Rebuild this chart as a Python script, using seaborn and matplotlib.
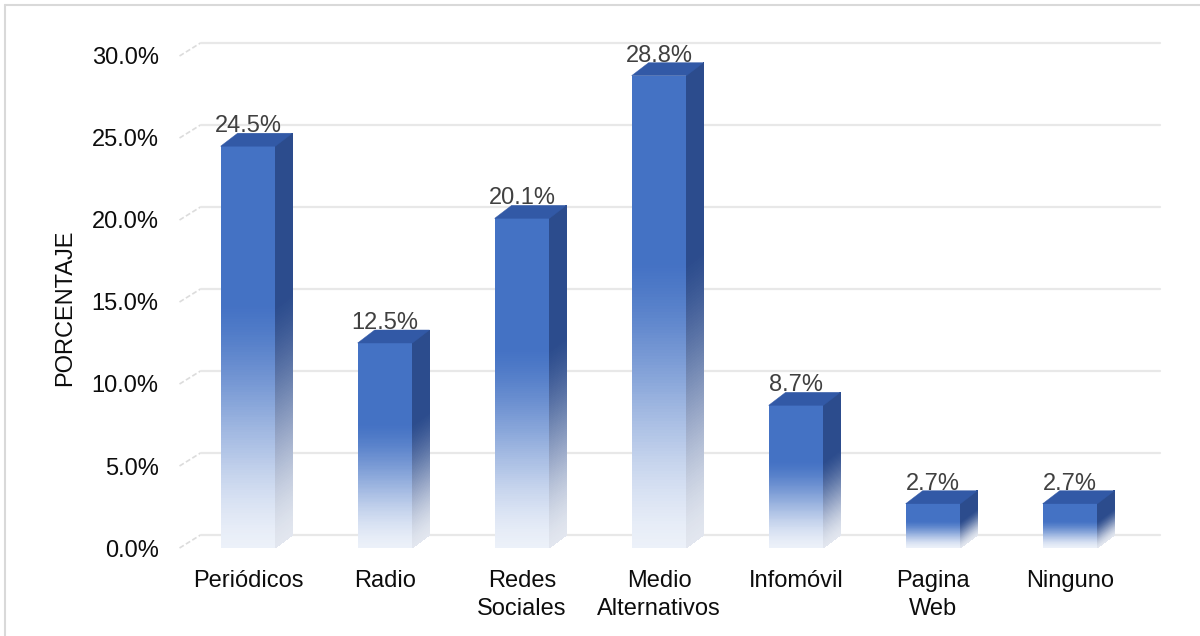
import numpy as np
import pandas as pd
import matplotlib
matplotlib.use("Agg")
import matplotlib.pyplot as plt
import seaborn as sns
from matplotlib.transforms import IdentityTransform
from matplotlib.collections import PolyCollection
from matplotlib.patches import Polygon
from matplotlib.lines import Line2D
from matplotlib.colors import to_rgb

# ---------------- data ----------------
categories = ["Periódicos", "Radio", "Redes\nSociales", "Medio\nAlternativos",
              "Infomóvil", "Pagina\nWeb", "Ninguno"]
values = [24.5, 12.5, 20.1, 28.8, 8.7, 2.7, 2.7]
y_ticks = [0, 5, 10, 15, 20, 25, 30]
y_ticklabels = ["0.0%", "5.0%", "10.0%", "15.0%", "20.0%", "25.0%", "30.0%"]
y_label = "PORCENTAJE"

# ---------------- style ----------------
sns.set_theme(style="white")
plt.rcParams['font.family'] = ['Liberation Sans', 'DejaVu Sans']
FS = 17

DPI = 100
fig = plt.figure(figsize=(12, 6.36), dpi=DPI)
ax = fig.add_axes([0.1496, 0.13836, 0.7992, 0.7736])

df = pd.DataFrame({"cat": categories, "val": values})
sns.barplot(data=df, x="cat", y="val", ax=ax, width=0.40, color="#4472C4",
            saturation=1, zorder=3)
ax.set_xlim(-0.5, 6.5)
ax.set_ylim(0, 30)

for s in ax.spines.values():
    s.set_visible(False)
ax.set_xlabel("")
ax.set_yticks(y_ticks)
ax.set_yticklabels(y_ticklabels)
ax.tick_params(axis="y", length=0, pad=15, labelsize=FS, labelcolor="#0d0d0d")
ax.tick_params(axis="x", length=0, pad=16, labelsize=FS, labelcolor="#0d0d0d")
for lab in ax.get_xticklabels():
    lab.set_linespacing(1.35)
ax.set_ylabel(y_label, fontsize=FS, color="#0d0d0d")
ax.yaxis.set_label_coords(-0.108, 0.488)
ax.grid(False)

T = ax.transData
ID = IdentityTransform()

# ---------------- back-wall gridlines ----------------
dxg, dyg = 21, 13
xL = T.transform((-0.5, 0))[0]
xR = T.transform((6.5, 0))[0]
for v in y_ticks:
    yf = T.transform((0, v))[1]
    ax.add_line(Line2D([xL, xL + dxg], [yf, yf + dyg], transform=ID,
                       color="#DCDCDC", lw=1.2, ls=(0, (3, 1.5)),
                       clip_on=False, zorder=1))
    ax.add_line(Line2D([xL + dxg, xR + dxg], [yf + dyg, yf + dyg], transform=ID,
                       color="#E8E8E8", lw=1.6, clip_on=False, zorder=1))

# ---------------- 3D bar decoration ----------------
dx, dy = 17, 13
front_c = np.array(to_rgb("#4472C4"))
side_c = np.array(to_rgb("#2C4C8D"))
top_c = np.array(to_rgb("#3259A6"))
pale_f = np.array(to_rgb("#F3F6FB"))
pale_s = np.array(to_rgb("#EAEDF3"))
N = 160


def fade(t):
    a = np.clip(t / 0.6, 0, 1)
    s = a * a * (3 - 2 * a)
    return 0.04 + 0.96 * (0.5 * s + 0.5 * a ** 1.2)


for p, v in zip(ax.patches, values):
    x0, w, h = p.get_x(), p.get_width(), p.get_height()
    (pxl, py0) = T.transform((x0, 0))
    (pxr, py1) = T.transform((x0 + w, h))
    p.set_visible(False)
    ys = np.linspace(py0, py1, N + 1)
    front_polys, front_cols, side_polys, side_cols = [], [], [], []
    for i in range(N):
        ya = ys[i]
        yb = ys[i + 1] + 0.6 if i < N - 1 else ys[i + 1]
        t = ((ys[i] + ys[i + 1]) / 2 - py0) / (py1 - py0)
        a = fade(t)
        fc = pale_f + (front_c - pale_f) * a
        sc = pale_s + (side_c - pale_s) * a
        front_polys.append([(pxl, ya), (pxr, ya), (pxr, yb), (pxl, yb)])
        front_cols.append(fc)
        side_polys.append([(pxr, ya), (pxr + dx, ya + dy), (pxr + dx, yb + dy), (pxr, yb)])
        side_cols.append(sc)
    pcs = PolyCollection(side_polys, facecolors=side_cols, edgecolors="none",
                         transform=ID, zorder=3, antialiased=False)
    pcs.set_clip_on(False)
    ax.add_collection(pcs, autolim=False)
    pcf = PolyCollection(front_polys, facecolors=front_cols, edgecolors="none",
                         transform=ID, zorder=4, antialiased=False)
    pcf.set_clip_on(False)
    ax.add_collection(pcf, autolim=False)
    top = Polygon([(pxl, py1), (pxl + dx, py1 + dy), (pxr + dx, py1 + dy), (pxr, py1)],
                  closed=True, facecolor=top_c, edgecolor=top_c, lw=0.3,
                  transform=ID, zorder=5, clip_on=False)
    ax.add_patch(top)
    ax.annotate(f"{v:.1f}%", xy=(x0 + w / 2, h), xytext=(0, 10),
                textcoords="offset points", ha="center", va="baseline",
                fontsize=FS, color="#404040", zorder=6, annotation_clip=False)

ax.set_xlim(-0.5, 6.5)
ax.set_ylim(0, 30)

# ---------------- outer border (top / left) ----------------
bc = "#D9D9D9"
fig.add_artist(Line2D([5 / 1200, 5 / 1200], [0, 1 - 5 / 636], transform=fig.transFigure,
                      color=bc, lw=1.5))
fig.add_artist(Line2D([5 / 1200, 1], [1 - 5 / 636, 1 - 5 / 636], transform=fig.transFigure,
                      color=bc, lw=1.5))

fig.savefig("out.png", dpi=DPI, facecolor="white")
